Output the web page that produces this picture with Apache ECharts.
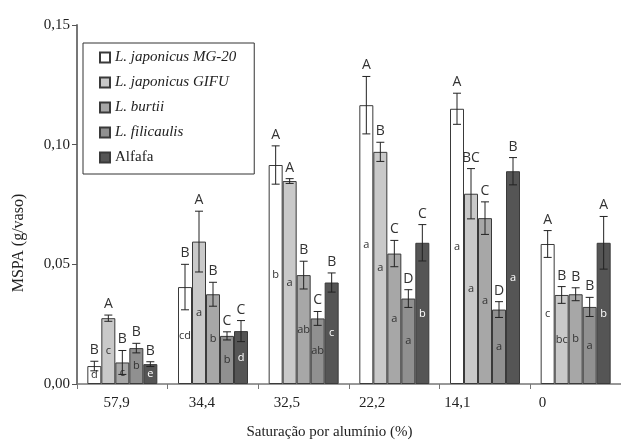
<!DOCTYPE html>
<html>
<head>
<meta charset="utf-8">
<script src="https://cdn.jsdelivr.net/npm/echarts@6/dist/echarts.min.js"></script>
<style>
  html, body { margin: 0; padding: 0; background: #fff; }
  #chart { width: 621px; height: 445px; }
</style>
</head>
<body>
<div id="chart"></div>
<script>
// aluminium saturation classes (%)
var cats = ['57,9', '34,4', '32,5', '22,2', '14,1', '0'];
var names = ['L. japonicus MG-20', 'L. japonicus GIFU', 'L. burtii', 'L. filicaulis', 'Alfafa'];

// MSPA means (g/vaso)
var mg20 = [0.0075, 0.0405, 0.0915, 0.1165, 0.1150, 0.0585];
var gifu = [0.0275, 0.0595, 0.0848, 0.0970, 0.0795, 0.0372];
var burtii = [0.0090, 0.0375, 0.0455, 0.0545, 0.0693, 0.0375];
var fili = [0.0150, 0.0201, 0.0274, 0.0357, 0.0311, 0.0322];
var alfafa = [0.0083, 0.0221, 0.0424, 0.0590, 0.0889, 0.0590];

// error bar half widths
var mg20Err = [0.0020, 0.0095, 0.0080, 0.0120, 0.0065, 0.0056];
var gifuErr = [0.0013, 0.0127, 0.0010, 0.0040, 0.0105, 0.0035];
var burtiiErr = [0.0050, 0.0050, 0.0058, 0.0055, 0.0068, 0.0027];
var filiErr = [0.0020, 0.0017, 0.0029, 0.0037, 0.0033, 0.0040];
var alfafaErr = [0.0010, 0.0044, 0.0040, 0.0076, 0.0057, 0.0110];

// letters: capitals above the bars, lower case inside
var mg20Up = ['B', 'B', 'A', 'A', 'A', 'A'];
var gifuUp = ['A', 'A', 'A', 'B', 'BC', 'B'];
var burtiiUp = ['B', 'B', 'B', 'C', 'C', 'B'];
var filiUp = ['B', 'C', 'C', 'D', 'D', 'B'];
var alfafaUp = ['B', 'C', 'B', 'C', 'B', 'A'];

var mg20Low = ['d', 'cd', 'b', 'a', 'a', 'c'];
var gifuLow = ['c', 'a', 'a', 'a', 'a', 'bc'];
var burtiiLow = ['c', 'b', 'ab', 'a', 'a', 'b'];
var filiLow = ['b', 'b', 'ab', 'a', 'a', 'a'];
var alfafaLow = ['e', 'd', 'c', 'b', 'a', 'b'];

var yTicks = [0, 0.05, 0.10, 0.15];

var BAR_W = 14;
var colors = ['#ffffff', '#c9c9c9', '#a7a7a7', '#909090', '#555555'];
var lowColors = ['#333', '#333', '#333', '#333', '#fff'];
var sans = '"Open Sans", "DejaVu Sans", sans-serif';
var serif = '"Liberation Serif", "DejaVu Serif", serif';

var means = [mg20, gifu, burtii, fili, alfafa];
var errs = [mg20Err, gifuErr, burtiiErr, filiErr, alfafaErr];
var ups = [mg20Up, gifuUp, burtiiUp, filiUp, alfafaUp];
var lows = [mg20Low, gifuLow, burtiiLow, filiLow, alfafaLow];

var series = [];
for (var i = 0; i < 5; i++) {
    (function (s) {
        series.push({
            name: names[s],
            type: 'bar',
            barWidth: BAR_W,
            barGap: '0%',
            data: means[s],
            itemStyle: { color: colors[s], borderColor: '#3a3a3a', borderWidth: 1 },
            label: {
                show: true,
                position: 'inside',
                fontFamily: sans,
                fontSize: 11,
                color: lowColors[s],
                formatter: function (p) { return lows[s][p.dataIndex]; }
            }
        });
    })(i);
}
for (var j = 0; j < 5; j++) {
    (function (s) {
        series.push({
            type: 'custom',
            z: 10,
            data: means[s].map(function (v, k) { return [k, v, errs[s][k]]; }),
            renderItem: function (params, api) {
                var top = api.coord([api.value(0), api.value(1) + api.value(2)]);
                var bot = api.coord([api.value(0), api.value(1) - api.value(2)]);
                var x = top[0] + (s - 2) * BAR_W;
                var ln = { stroke: '#222', lineWidth: 1 };
                return {
                    type: 'group',
                    children: [
                        { type: 'line', shape: { x1: x, y1: top[1], x2: x, y2: bot[1] }, style: ln },
                        { type: 'line', shape: { x1: x - 4, y1: top[1], x2: x + 4, y2: top[1] }, style: ln },
                        { type: 'line', shape: { x1: x - 4, y1: bot[1], x2: x + 4, y2: bot[1] }, style: ln },
                        {
                            type: 'text',
                            x: x,
                            y: top[1] - 4,
                            style: {
                                text: ups[s][params.dataIndex],
                                align: 'center',
                                verticalAlign: 'bottom',
                                font: '14px ' + sans,
                                fill: '#333'
                            }
                        }
                    ]
                };
            }
        });
    })(j);
}

var chart = echarts.init(document.getElementById('chart'));
chart.setOption({
    animation: false,
    backgroundColor: '#fff',
    grid: [
        { left: 77, right: -5, top: 25, bottom: 61 },
        { left: 74, right: 36, top: 25, bottom: 61 }
    ],
    legend: {
        orient: 'vertical',
        left: 83,
        top: 43,
        padding: [7, 18, 9, 16],
        itemGap: 10,
        itemWidth: 10,
        itemHeight: 10,
        borderColor: '#333',
        borderWidth: 1,
        icon: 'rect',
        textStyle: { fontFamily: serif, fontSize: 15, color: '#222', lineHeight: 15 },
        data: names.map(function (n, k) {
            return { name: n, textStyle: { fontStyle: k < 4 ? 'italic' : 'normal' } };
        })
    },
    xAxis: [
        {
            type: 'category',
            data: cats,
            gridIndex: 0,
            axisLine: { show: true, lineStyle: { color: '#777', width: 1.5 } },
            axisTick: { show: true, length: 5, lineStyle: { color: '#777' } },
            axisLabel: { show: false }
        },
        {
            type: 'category',
            data: cats,
            gridIndex: 1,
            axisLine: { show: false },
            axisTick: { show: false },
            axisLabel: { margin: 22, fontFamily: serif, fontSize: 15, color: '#222' },
            name: 'Saturação por alumínio (%)',
            nameLocation: 'middle',
            nameGap: 51,
            nameTextStyle: { fontFamily: serif, fontSize: 15, color: '#222' }
        }
    ],
    yAxis: [
        {
            type: 'value',
            gridIndex: 0,
            min: yTicks[0],
            max: yTicks[yTicks.length - 1],
            interval: yTicks[1] - yTicks[0],
            axisLine: { show: true, lineStyle: { color: '#777', width: 2 } },
            axisTick: { show: true, length: 5, lineStyle: { color: '#555' } },
            splitLine: { show: false },
            axisLabel: {
                margin: 7,
                fontFamily: serif,
                fontSize: 15,
                color: '#222',
                formatter: function (v) { return v.toFixed(2).replace('.', ','); }
            }
        },
        { type: 'value', gridIndex: 1, show: false, min: 0, max: 0.15 }
    ],
    graphic: [{
        type: 'text',
        x: 19,
        y: 243,
        rotation: Math.PI / 2,
        style: {
            text: 'MSPA (g/vaso)',
            align: 'center',
            verticalAlign: 'middle',
            font: '16px ' + serif,
            fill: '#222'
        }
    }],
    series: series
});
</script>
</body>
</html>
